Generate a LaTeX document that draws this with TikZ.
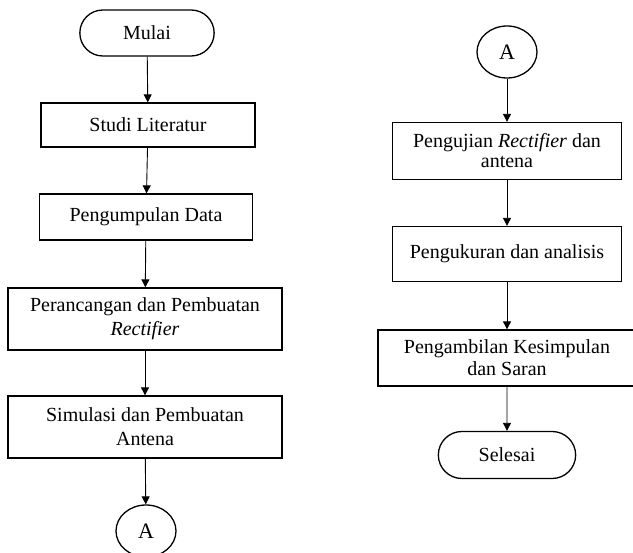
\documentclass[tikz,border=0pt]{standalone}
\usepackage{fontspec}
\setmainfont{Liberation Serif}
\usetikzlibrary{arrows.meta,shapes.misc,shapes.geometric}

\begin{document}
\begin{tikzpicture}[->,line width=0.9pt,>={Triangle[length=8pt,width=8pt]},x=1pt,y=-1pt]
    \tikzstyle{proc}=[draw=black, line width=1.3pt, rectangle, align=center, inner sep=2pt, font=\fontsize{20}{22}\selectfont]
    \tikzstyle{term}=[draw=black, line width=1.3pt, rounded rectangle, minimum height=46pt, font=\fontsize{20}{22}\selectfont]
    \tikzstyle{conn}=[draw=black, line width=1.3pt, ellipse, minimum width=60pt, minimum height=52pt, inner sep=0pt, font=\fontsize{22}{24}\selectfont]
    \useasboundingbox (0,0) rectangle (633,553);

    % left column
    \node[term, minimum width=141pt] (mulai) at (147,33) {Mulai};
    \node[proc, minimum width=214pt, minimum height=44pt] (studi) at (148,125) {Studi Literatur};
    \node[proc, minimum width=213pt, minimum height=46pt] (data) at (146,217) {Pengumpulan Data};
    \node[proc, minimum width=274pt, minimum height=62pt, font=\fontsize{20}{24}\selectfont] (rancang) at (145,319) {Perancangan dan Pembuatan\\\textit{Rectifier}};
    \node[proc, minimum width=274pt, minimum height=62pt, font=\fontsize{20}{24}\selectfont] (simulasi) at (145,427) {Simulasi dan Pembuatan\\Antena};
    \node[conn] (a1) at (146,531) {A};

    % right column
    \node[conn] (a2) at (507,52) {A};
    \node[proc, minimum width=229pt, minimum height=57pt, font=\fontsize{20}{20}\selectfont] (uji) at (507,151) {Pengujian \textit{Rectifier} dan\\antena};
    \node[proc, minimum width=229pt, minimum height=55pt] (ukur) at (507,254) {Pengukuran dan analisis};
    \node[proc, minimum width=258pt, minimum height=56pt] (simpul) at (507,358) {Pengambilan Kesimpulan\\dan Saran};
    \node[term, minimum width=144pt, minimum height=47pt] (selesai) at (507,455) {Selesai};

    \path
     (mulai) edge (studi)
     (studi) edge (data)
     (data) edge (rancang)
     (rancang) edge (simulasi)
     (simulasi) edge (a1)
     (a2) edge (uji)
     (uji) edge (ukur)
     (ukur) edge (simpul)
     (simpul) edge (selesai)
     ;
\end{tikzpicture}
\end{document}
